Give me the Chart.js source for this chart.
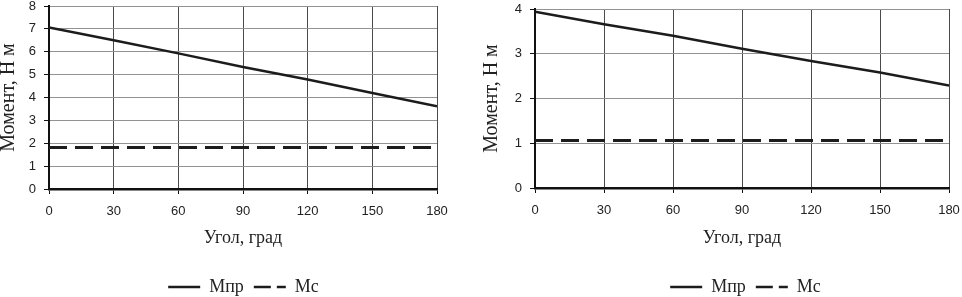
<!DOCTYPE html>
<html>
<head>
<meta charset="utf-8">
<script src="https://cdn.jsdelivr.net/npm/chart.js@4/dist/chart.umd.min.js"></script>
<style>
  html, body { margin: 0; padding: 0; background: #fff; overflow: hidden; width: 962px; height: 297px; }
  canvas { position: absolute; top: 0; }
  #c1 { left: 0; }
  #c2 { left: 480px; }
</style>
</head>
<body>
<canvas id="c1" width="460" height="306"></canvas>
<canvas id="c2" width="482" height="306"></canvas>
<script>
// ---- data ----
const angles = [0, 30, 60, 90, 120, 150, 180];
const xTickLabels = ['0', '30', '60', '90', '120', '150', '180'];

// left chart
const mprLeft = [7.06, 6.50, 5.93, 5.33, 4.79, 4.20, 3.62];
const mcLeft  = [1.81, 1.81, 1.81, 1.81, 1.81, 1.81, 1.81];
const yTicksLeft = ['0', '1', '2', '3', '4', '5', '6', '7', '8'];

// right chart
const mprRight = [3.94, 3.66, 3.40, 3.11, 2.84, 2.58, 2.29];
const mcRight  = [1.06, 1.06, 1.06, 1.06, 1.06, 1.06, 1.06];
const yTicksRight = ['0', '1', '2', '3', '4'];

const seriesNames = ['Мпр', 'Мс'];
const xTitle = 'Угол, град';
const yTitle = 'Момент, Н м';

function pts(xs, ys) { return xs.map((x, i) => ({ x: x, y: ys[i] })); }

const legendShift = {
  id: 'legendShift',
  afterLayout(chart, args, opts) {
    if (chart.legend) { chart.legend.left += opts.dx; chart.legend.right += opts.dx; }
  }
};

function makeChart(id, mpr, mc, yTicks, lay) {
  const ctx = document.getElementById(id).getContext('2d');
  return new Chart(ctx, {
    type: 'line',
    plugins: [legendShift],
    data: {
      datasets: [
        { label: seriesNames[0], data: pts(angles, mpr), borderColor: '#1c1c1c', backgroundColor: '#1c1c1c',
          borderWidth: 2.5, pointRadius: 0, tension: 0, fill: false },
        { label: seriesNames[1], data: pts(angles, mc), borderColor: '#1c1c1c', backgroundColor: '#1c1c1c',
          borderWidth: 3, borderDash: [18, 8], pointRadius: 0, tension: 0, fill: false }
      ]
    },
    options: {
      responsive: false,
      animation: false,
      devicePixelRatio: 1,
      layout: { padding: { top: lay.top, right: lay.right, left: 0, bottom: 0 } },
      plugins: {
        tooltip: { enabled: false },
        legendShift: { dx: lay.dx },
        legend: {
          position: 'bottom',
          labels: {
            usePointStyle: true, pointStyle: 'line', pointStyleWidth: 32,
            padding: 10, color: '#222',
            font: { family: 'Liberation Serif', size: 18 },
            generateLabels: (chart) => {
              const items = Chart.defaults.plugins.legend.labels.generateLabels(chart);
              items.forEach((it, i) => { it.lineDash = i === 1 ? [17, 6] : []; it.lineWidth = 2.5; });
              return items;
            }
          }
        }
      },
      scales: {
        x: {
          type: 'linear', min: 0, max: angles[angles.length - 1],
          afterBuildTicks: s => { s.ticks = angles.map(v => ({ value: v })); },
          afterFit: s => { s.height = lay.xh; s.paddingLeft = 0; s.paddingRight = 0; },
          grid: { color: '#4a4a4a', lineWidth: 1, tickLength: 5, tickColor: '#111', drawTicks: true },
          border: { color: '#111', width: 2.5 },
          ticks: {
            padding: 11, color: '#222', maxRotation: 0,
            font: { family: 'Liberation Sans', size: 13, lineHeight: 1 },
            callback: (v, i) => xTickLabels[i]
          },
          title: { display: true, text: xTitle, color: '#222',
                   font: { family: 'Liberation Serif', size: 18, lineHeight: 1.2 },
                   padding: { top: 0, bottom: 19.2 } }
        },
        y: {
          type: 'linear', min: 0, max: yTicks.length - 1,
          afterBuildTicks: s => { s.ticks = yTicks.map((t, i) => ({ value: i })); },
          afterFit: s => { s.width = lay.yw; s.paddingTop = 0; s.paddingBottom = 0; },
          grid: { color: '#929292', lineWidth: 1, tickLength: 5, tickColor: '#111', drawTicks: true },
          border: { color: '#111', width: 2 },
          ticks: {
            padding: 8, color: '#222',
            font: { family: 'Liberation Sans', size: 13, lineHeight: 1 },
            callback: (v, i) => yTicks[i]
          },
          title: { display: true, text: yTitle, color: '#222',
                   font: { family: 'Liberation Serif', size: 20, lineHeight: 0.9 },
                   padding: { top: lay.ytp, bottom: 0 } }
        }
      }
    }
  });
}

makeChart('c1', mprLeft, mcLeft, yTicksLeft, { top: 6, right: 23, yw: 49, xh: 79, ytp: 0, dx: 25 });
makeChart('c2', mprRight, mcRight, yTicksRight, { top: 9, right: 13, yw: 55, xh: 80, ytp: 2.5, dx: 31 });
</script>
</body>
</html>
